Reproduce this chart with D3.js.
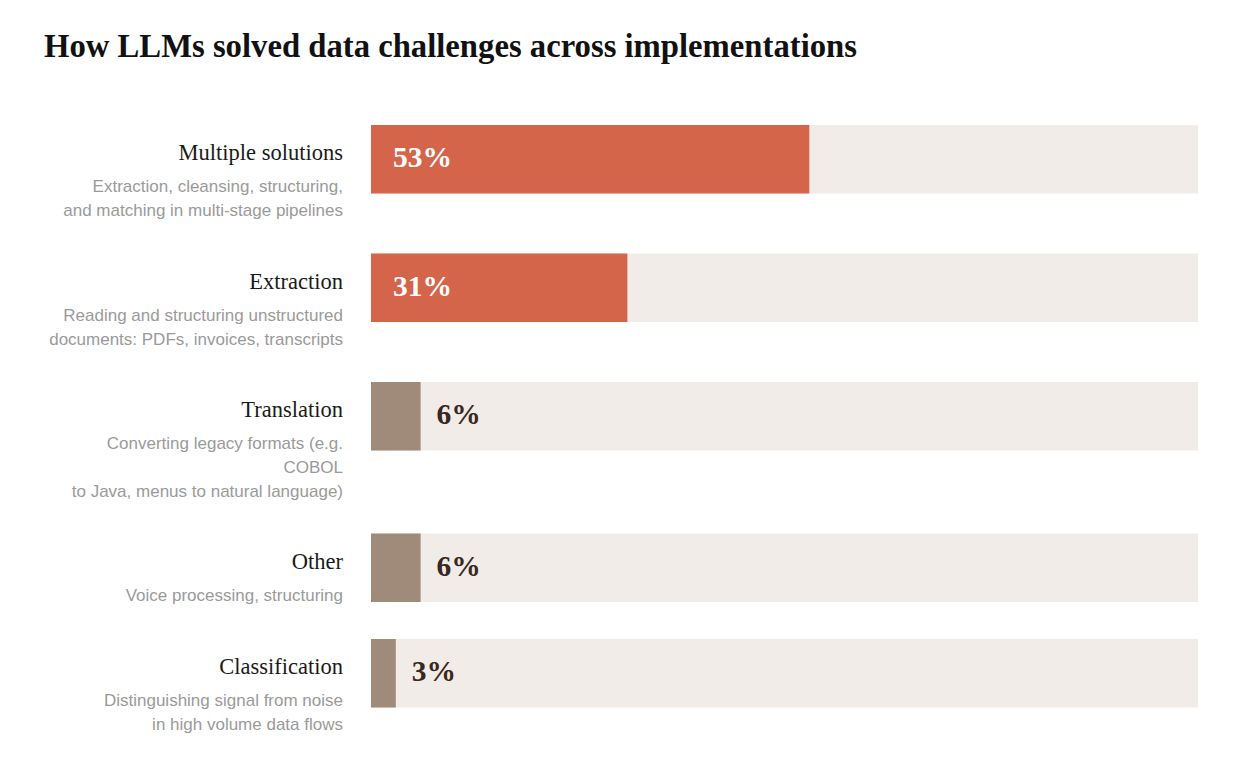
<!DOCTYPE html>
<html>
<head>
<meta charset="utf-8">
<script src="https://cdn.jsdelivr.net/npm/d3@7"></script>
<style>
  html, body { margin: 0; padding: 0; background: #fff; }
</style>
</head>
<body>
<script>
// chart data
var categories = ['Multiple solutions', 'Extraction', 'Translation', 'Other', 'Classification'];
var shares = [53, 31, 6, 6, 3];
var descriptions = [
  ['Extraction, cleansing, structuring,', 'and matching in multi-stage pipelines'],
  ['Reading and structuring unstructured', 'documents: PDFs, invoices, transcripts'],
  ['Converting legacy formats (e.g.', 'COBOL', 'to Java, menus to natural language)'],
  ['Voice processing, structuring'],
  ['Distinguishing signal from noise', 'in high volume data flows']
];
var highlighted = ['Multiple solutions', 'Extraction'];

var W = 1249, H = 765;
var BAR_H = 68.5, GAP = 36, TOP = 125;
var LABEL_X = 343;

var svg = d3.select('body').append('svg')
    .attr('width', W)
    .attr('height', H);

svg.append('text')
    .text('How LLMs solved data challenges across implementations')
    .attr('x', 44)
    .attr('y', 57)
    .style('font-family', 'Liberation Serif, serif')
    .style('font-weight', 'bold')
    .style('font-size', '32.7px')
    .style('fill', '#111');

var x = d3.scaleLinear().domain([0, 100]).range([371, 1198]);

// rows get taller when the description wraps onto more lines
var rows = [];
var y0 = TOP;
categories.forEach(function(c, i) {
  rows.push({ name: c, value: shares[i], desc: descriptions[i], top: y0 });
  y0 += Math.max(BAR_H, 46.5 + 23 * descriptions[i].length) + GAP;
});

var g = svg.append('g').selectAll('g.row')
    .data(rows)
  .enter().append('g')
    .attr('class', 'row')
    .attr('transform', function(d) { return 'translate(0,' + d.top + ')'; });

g.append('rect')
    .attr('x', x(0))
    .attr('y', 0)
    .attr('width', x(100) - x(0))
    .attr('height', BAR_H)
    .attr('fill', '#f1ece7');

g.append('rect')
    .attr('x', x(0))
    .attr('y', 0)
    .attr('width', function(d) { return x(d.value) - x(0); })
    .attr('height', BAR_H)
    .attr('fill', function(d) { return highlighted.indexOf(d.name) > -1 ? '#d4654a' : '#a08b7b'; });

g.append('text')
    .text(function(d) { return d.value + '%'; })
    .attr('x', function(d) { return d.value > 15 ? x(0) + 22 : x(d.value) + 16; })
    .attr('y', BAR_H / 2 + 8)
    .style('font-family', 'Liberation Serif, serif')
    .style('font-weight', 'bold')
    .style('font-size', '29.5px')
    .style('fill', function(d) { return d.value > 15 ? '#fff' : '#3a2820'; });

g.append('text')
    .text(function(d) { return d.name; })
    .attr('x', LABEL_X)
    .attr('y', 35)
    .attr('text-anchor', 'end')
    .style('font-family', 'Liberation Serif, serif')
    .style('font-size', '22.5px')
    .style('fill', '#1a1a1a');

g.each(function(d) {
  d3.select(this).selectAll('text.desc')
      .data(d.desc)
    .enter().append('text')
      .attr('class', 'desc')
      .text(function(t) { return t; })
      .attr('x', LABEL_X)
      .attr('y', function(t, j) { return 67 + 24 * j; })
      .attr('text-anchor', 'end')
      .style('font-family', 'Liberation Sans, Arial, sans-serif')
      .style('font-size', '17px')
      .style('fill', '#9a9a9a');
});
</script>
</body>
</html>
